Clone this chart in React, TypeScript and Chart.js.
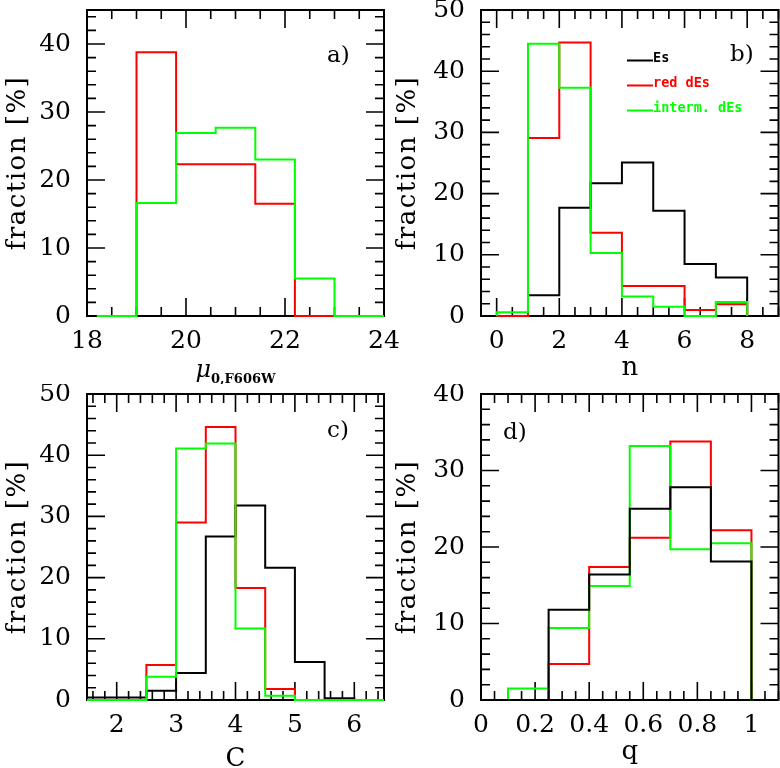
import React, { useEffect, useRef } from 'react';
import { Chart, registerables } from 'chart.js';

Chart.register(...registerables);

const RED = '#ff0000';
const GREEN = '#00ff00';
const BLACK = '#000000';

// ---------- panel a: central surface brightness ----------
const muEdges = [18.2, 19.0, 19.8, 20.6, 21.4, 22.2, 23.0, 24.0];
const muRed = [0, 38.8, 22.3, 22.3, 16.5, 0, 0];
const muGreen = [0, 16.6, 26.9, 27.7, 23.0, 5.5, 0];
const muXTicks = [18, 20, 22, 24];
const muXLabels = ['18', '20', '22', '24'];
const muYTicks = [0, 10, 20, 30, 40];
const muYLabels = ['0', '10', '20', '30', '40'];

// ---------- panel b: Sersic index n ----------
const nEdges = [0, 1, 2, 3, 4, 5, 6, 7, 8];
const nBlack = [0, 3.4, 17.7, 21.7, 25.1, 17.2, 8.5, 6.3];
const nRed = [0, 29.1, 44.7, 13.6, 4.9, 4.9, 1.0, 1.9];
const nGreen = [0.6, 44.5, 37.3, 10.3, 3.2, 1.5, 0, 2.3];
const nXTicks = [0, 2, 4, 6, 8];
const nXLabels = ['0', '2', '4', '6', '8'];
const nYTicks = [0, 10, 20, 30, 40, 50];
const nYLabels = ['0', '10', '20', '30', '40', '50'];

// ---------- panel c: concentration C ----------
const cEdges = [1.5, 2.0, 2.5, 3.0, 3.5, 4.0, 4.5, 5.0, 5.5, 6.0, 6.5];
const cBlack = [0.4, 0.4, 1.5, 4.4, 26.7, 31.8, 21.6, 6.2, 0.3, 0];
const cRed = [0, 0, 5.7, 29.0, 44.6, 18.3, 1.8, 0, 0, 0];
const cGreen = [0, 0, 3.8, 41.1, 41.9, 11.7, 0.7, 0, 0, 0];
const cXTicks = [2, 3, 4, 5, 6];
const cXLabels = ['2', '3', '4', '5', '6'];
const cYTicks = [0, 10, 20, 30, 40, 50];
const cYLabels = ['0', '10', '20', '30', '40', '50'];

// ---------- panel d: axis ratio q ----------
const qEdges = [0, 0.1, 0.25, 0.4, 0.55, 0.7, 0.85, 1.0, 1.1];
const qBlack = [0, 0, 11.8, 16.4, 25.0, 27.8, 18.1, 0];
const qRed = [0, 0, 4.7, 17.4, 21.2, 33.8, 22.2, 0];
const qGreen = [0, 1.5, 9.4, 14.9, 33.2, 19.7, 20.5, 0];
const qXTicks = [0, 0.2, 0.4, 0.6, 0.8, 1];
const qXLabels = ['0', '0.2', '0.4', '0.6', '0.8', '1'];
const qYTicks = [0, 10, 20, 30, 40];
const qYLabels = ['0', '10', '20', '30', '40'];

const legendNames = ['Es', 'red dEs', 'interm. dEs'];
const legendColors = [BLACK, RED, GREEN];

const SERIF = '"DejaVu Serif", "Liberation Serif", serif';

function stepPoints(edges: number[], values: number[]) {
  const pts: { x: number; y: number }[] = [];
  pts.push({ x: edges[0], y: 0 });
  for (let i = 0; i < values.length; i++) pts.push({ x: edges[i], y: values[i] });
  pts.push({ x: edges[values.length], y: values[values.length - 1] });
  pts.push({ x: edges[values.length], y: 0 });
  return pts;
}

function tickValues(min: number, max: number, minor: number, major: number) {
  const out: { v: number; major: boolean }[] = [];
  const k0 = Math.ceil(min / minor - 1e-9);
  const k1 = Math.floor(max / minor + 1e-9);
  for (let k = k0; k <= k1; k++) {
    const v = k * minor;
    const r = v / major;
    out.push({ v, major: Math.abs(r - Math.round(r)) < 1e-6 });
  }
  return out;
}

const framePlugin = {
  id: 'frame',
  beforeDatasetsDraw(chart: any, _args: any, opts: any) {
    const { ctx, chartArea: a, scales } = chart;
    const x = scales.x;
    const y = scales.y;
    ctx.save();
    ctx.strokeStyle = BLACK;
    ctx.lineWidth = 1.6;
    ctx.beginPath();
    for (const t of tickValues(x.min, x.max, opts.xMinor, opts.xMajor)) {
      const px = x.getPixelForValue(t.v);
      const L = t.major ? 18 : 9;
      ctx.moveTo(px, a.bottom);
      ctx.lineTo(px, a.bottom - L);
      ctx.moveTo(px, a.top);
      ctx.lineTo(px, a.top + L);
    }
    for (const t of tickValues(y.min, y.max, opts.yMinor, opts.yMajor)) {
      const py = y.getPixelForValue(t.v);
      const L = t.major ? 18 : 9;
      ctx.moveTo(a.left, py);
      ctx.lineTo(a.left + L, py);
      ctx.moveTo(a.right, py);
      ctx.lineTo(a.right - L, py);
    }
    ctx.stroke();
    ctx.lineWidth = 2;
    ctx.strokeRect(a.left, a.top, a.right - a.left, a.bottom - a.top);
    ctx.restore();
  },
};

const textPlugin = {
  id: 'texts',
  afterDraw(chart: any, _args: any, opts: any) {
    const { ctx, chartArea: a } = chart;
    const cx = (a.left + a.right) / 2;
    const cy = (a.top + a.bottom) / 2;
    ctx.save();
    ctx.fillStyle = BLACK;
    // y title
    ctx.font = `26px ${SERIF}`;
    ctx.textBaseline = 'alphabetic';
    ctx.textAlign = 'center';
    ctx.save();
    ctx.translate(25, cy);
    ctx.rotate(-Math.PI / 2);
    (ctx as any).letterSpacing = '1.5px';
    ctx.fillText('fraction [%]', 0, 0);
    (ctx as any).letterSpacing = '0px';
    ctx.restore();
    // x title
    if (opts.xTitle === 'mu') {
      ctx.textAlign = 'left';
      const f1 = `italic 24px ${SERIF}`;
      const f2 = `bold 13px ${SERIF}`;
      ctx.font = f1;
      const w1 = ctx.measureText('\u03bc').width;
      ctx.font = f2;
      const w2 = ctx.measureText('0,F606W').width;
      const x0 = cx - (w1 + w2) / 2;
      ctx.font = f1;
      ctx.fillText('\u03bc', x0, opts.xTitleY);
      ctx.font = f2;
      ctx.fillText('0,F606W', x0 + w1, opts.xTitleY + 6);
    } else {
      ctx.font = `26px ${SERIF}`;
      ctx.textAlign = 'center';
      ctx.fillText(opts.xTitle, cx, opts.xTitleY);
    }
    // panel letter
    ctx.font = `23px ${SERIF}`;
    ctx.textAlign = 'left';
    ctx.fillText(opts.letter, opts.letterX, opts.letterY);
    // legend
    if (opts.legend) {
      ctx.font = `bold 13.5px "DejaVu Sans Mono", monospace`;
      ctx.lineWidth = 2;
      legendNames.forEach((name, i) => {
        const ly = 60.5 + i * 25;
        ctx.strokeStyle = legendColors[i];
        ctx.fillStyle = legendColors[i];
        ctx.beginPath();
        ctx.moveTo(237, ly);
        ctx.lineTo(263, ly);
        ctx.stroke();
        ctx.fillText(name, 263, ly + 1);
      });
    }
    ctx.restore();
  },
};

interface Series {
  values: number[];
  color: string;
  top: number; // higher draws later (on top)
}

interface PanelCfg {
  left: number;
  top: number;
  width: number;
  height: number;
  padTop: number;
  padRight: number;
  yAxisW: number;
  xAxisH: number;
  xMin: number;
  xMax: number;
  yMin: number;
  yMax: number;
  xTicks: number[];
  xLabels: string[];
  yTicks: number[];
  yLabels: string[];
  xMinor: number;
  xMajor: number;
  yMinor: number;
  yMajor: number;
  edges: number[];
  series: Series[];
  letter: string;
  letterX: number;
  letterY: number;
  xTitle: string;
  xTitleY: number;
  legend: boolean;
}

function Panel({ cfg }: { cfg: PanelCfg }) {
  const ref = useRef<HTMLCanvasElement | null>(null);
  useEffect(() => {
    if (!ref.current) return;
    const tickFont = { family: SERIF, size: 25 };
    const datasets = cfg.series.map((s) => ({
      data: stepPoints(cfg.edges, s.values),
      borderColor: s.color,
      backgroundColor: s.color,
      borderWidth: 2,
      pointRadius: 0,
      fill: false,
      stepped: 'before' as const,
      tension: 0,
      clip: false as any,
      order: 10 - s.top,
    }));
    const chart = new Chart(ref.current, {
      type: 'line',
      data: { datasets: datasets as any },
      options: {
        animation: false,
        responsive: false,
        events: [],
        layout: { padding: { top: cfg.padTop, right: cfg.padRight, left: 0, bottom: 0 } },
        plugins: {
          legend: { display: false },
          tooltip: { enabled: false },
          frame: { xMinor: cfg.xMinor, xMajor: cfg.xMajor, yMinor: cfg.yMinor, yMajor: cfg.yMajor },
          texts: {
            letter: cfg.letter,
            letterX: cfg.letterX,
            letterY: cfg.letterY,
            xTitle: cfg.xTitle,
            xTitleY: cfg.xTitleY,
            legend: cfg.legend,
          },
        } as any,
        scales: {
          x: {
            type: 'linear',
            min: cfg.xMin,
            max: cfg.xMax,
            grid: { display: false, drawTicks: false },
            border: { display: false },
            ticks: {
              font: tickFont,
              color: BLACK,
              padding: 10,
              maxRotation: 0,
              minRotation: 0,
              autoSkip: false,
              callback: (_v: any, i: number) => cfg.xLabels[i],
            },
            afterBuildTicks: (scale: any) => {
              scale.ticks = cfg.xTicks.map((v) => ({ value: v }));
            },
            afterFit: (scale: any) => {
              scale.height = cfg.xAxisH;
              scale.paddingLeft = 0;
              scale.paddingRight = 0;
              scale.paddingTop = 0;
              scale.paddingBottom = 0;
            },
          },
          y: {
            type: 'linear',
            min: cfg.yMin,
            max: cfg.yMax,
            grid: { display: false, drawTicks: false },
            border: { display: false },
            ticks: {
              font: tickFont,
              color: BLACK,
              padding: 16,
              autoSkip: false,
              callback: (_v: any, i: number) => cfg.yLabels[i],
            },
            afterBuildTicks: (scale: any) => {
              scale.ticks = cfg.yTicks.map((v) => ({ value: v }));
            },
            afterFit: (scale: any) => {
              scale.width = cfg.yAxisW;
              scale.paddingLeft = 0;
              scale.paddingRight = 0;
              scale.paddingTop = 0;
              scale.paddingBottom = 0;
            },
          },
        } as any,
      },
      plugins: [framePlugin, textPlugin],
    });
    return () => chart.destroy();
  }, [cfg]);
  return (
    <canvas
      ref={ref}
      width={cfg.width}
      height={cfg.height}
      style={{ position: 'absolute', left: cfg.left, top: cfg.top, width: cfg.width, height: cfg.height }}
    />
  );
}

const panels: PanelCfg[] = [
  {
    left: 0, top: 0, width: 430, height: 384, padTop: 10, padRight: 46, yAxisW: 87, xAxisH: 68,
    xMin: 18, xMax: 24, yMin: 0, yMax: 45,
    xTicks: muXTicks, xLabels: muXLabels, yTicks: muYTicks, yLabels: muYLabels,
    xMinor: 0.5, xMajor: 2, yMinor: 2, yMajor: 10,
    edges: muEdges,
    series: [
      { values: muRed, color: RED, top: 1 },
      { values: muGreen, color: GREEN, top: 2 },
    ],
    letter: 'a)', letterX: 327, letterY: 62, xTitle: 'mu', xTitleY: 377, legend: false,
  },
  {
    left: 390, top: 0, width: 390, height: 384, padTop: 10, padRight: 1.5, yAxisW: 91, xAxisH: 68,
    xMin: -0.5, xMax: 9, yMin: 0, yMax: 50,
    xTicks: nXTicks, xLabels: nXLabels, yTicks: nYTicks, yLabels: nYLabels,
    xMinor: 0.5, xMajor: 2, yMinor: 2, yMajor: 10,
    edges: nEdges,
    series: [
      { values: nBlack, color: BLACK, top: 1 },
      { values: nRed, color: RED, top: 2 },
      { values: nGreen, color: GREEN, top: 3 },
    ],
    letter: 'b)', letterX: 340, letterY: 61, xTitle: 'n', xTitleY: 375, legend: true,
  },
  {
    left: 0, top: 384, width: 430, height: 384, padTop: 10, padRight: 46, yAxisW: 87, xAxisH: 68,
    xMin: 1.5, xMax: 6.5, yMin: 0, yMax: 50,
    xTicks: cXTicks, xLabels: cXLabels, yTicks: cYTicks, yLabels: cYLabels,
    xMinor: 0.2, xMajor: 1, yMinor: 2, yMajor: 10,
    edges: cEdges,
    series: [
      { values: cBlack, color: BLACK, top: 1 },
      { values: cRed, color: RED, top: 2 },
      { values: cGreen, color: GREEN, top: 3 },
    ],
    letter: 'c)', letterX: 327, letterY: 53, xTitle: 'C', xTitleY: 382, legend: false,
  },
  {
    left: 390, top: 384, width: 390, height: 384, padTop: 10, padRight: 1.5, yAxisW: 91, xAxisH: 68,
    xMin: 0, xMax: 1.1, yMin: 0, yMax: 40,
    xTicks: qXTicks, xLabels: qXLabels, yTicks: qYTicks, yLabels: qYLabels,
    xMinor: 0.05, xMajor: 0.2, yMinor: 2, yMajor: 10,
    edges: qEdges,
    series: [
      { values: qRed, color: RED, top: 1 },
      { values: qGreen, color: GREEN, top: 2 },
      { values: qBlack, color: BLACK, top: 3 },
    ],
    letter: 'd)', letterX: 113, letterY: 55, xTitle: 'q', xTitleY: 375, legend: false,
  },
];

export default function App() {
  return (
    <div style={{ position: 'absolute', left: 0, top: 0, width: 780, height: 768, background: '#fff', overflow: 'hidden' }}>
      {panels.map((p, i) => (
        <Panel key={i} cfg={p} />
      ))}
    </div>
  );
}
